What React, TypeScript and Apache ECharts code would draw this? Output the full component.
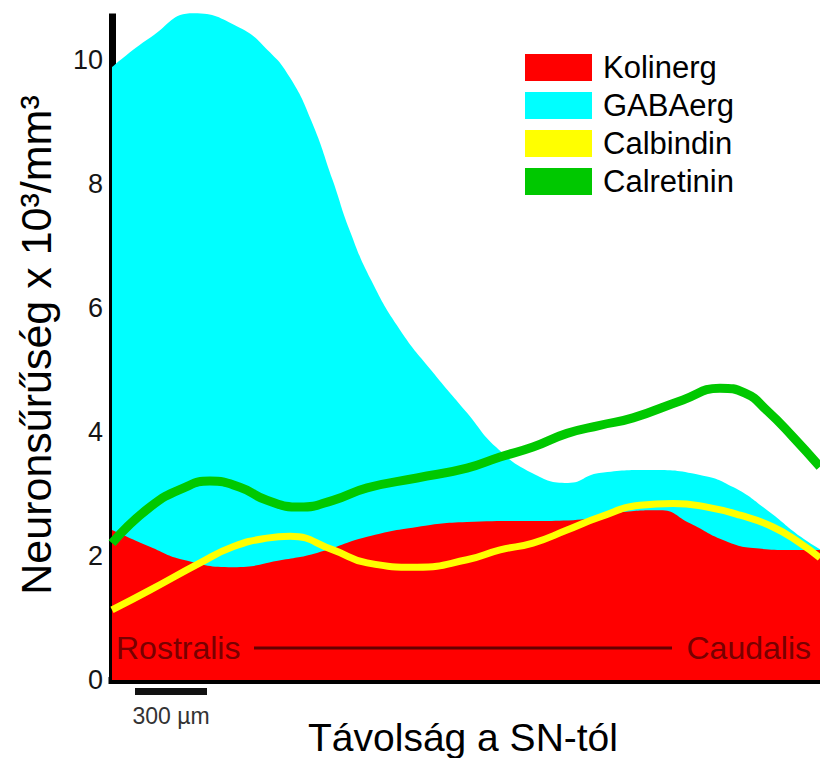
import React, { useEffect, useRef } from "react";
import * as echarts from "echarts";

// Distance from SN (µm), rostral -> caudal; densities in 10^3 neurons / mm^3
const kolinergX = [0, 158, 296, 504, 713, 854, 1063, 1271, 1479, 1921, 2129, 2283, 2408, 2546, 2671, 2825, 2950];
const kolinergY = [2.42, 2.15, 1.94, 1.82, 1.94, 2.05, 2.31, 2.47, 2.55, 2.58, 2.71, 2.74, 2.53, 2.26, 2.13, 2.1, 2.1];

const gabaergX = [0, 160, 340, 530, 650, 740, 830, 920, 990, 1080, 1200, 1330, 1480, 1600, 1750, 1900, 2030, 2240, 2450, 2590, 2730, 2870, 2950];
const gabaergY = [9.89, 10.37, 10.76, 10.53, 10.16, 9.73, 9.03, 8.06, 7.26, 6.45, 5.65, 5.0, 4.31, 3.76, 3.34, 3.18, 3.34, 3.39, 3.31, 3.11, 2.74, 2.31, 2.11];

const calbindinX = [0, 158, 367, 504, 646, 742, 921, 1063, 1271, 1479, 1617, 1754, 1896, 2033, 2200, 2338, 2479, 2617, 2754, 2867, 2950];
const calbindinY = [1.13, 1.45, 1.89, 2.15, 2.29, 2.32, 2.1, 1.89, 1.82, 1.94, 2.1, 2.21, 2.42, 2.63, 2.82, 2.85, 2.79, 2.66, 2.47, 2.21, 1.97];

const calretininX = [0, 158, 304, 408, 533, 646, 783, 921, 1063, 1271, 1479, 1617, 1754, 1896, 2033, 2171, 2379, 2533, 2638, 2729, 2838, 2950];
const calretininY = [2.21, 2.79, 3.11, 3.21, 3.11, 2.9, 2.79, 2.9, 3.1, 3.26, 3.42, 3.6, 3.76, 3.98, 4.11, 4.23, 4.52, 4.71, 4.63, 4.35, 3.92, 3.44];

const legendNames = ["Kolinerg", "GABAerg", "Calbindin", "Calretinin"];
const yTicks = { min: 0, max: 10.7, interval: 2 };
const xMax = 2950;
const scaleBarUm = 300;

const FONT = "'Liberation Sans', Arial, sans-serif";

const W = 820;
const H = 758;
const GRID = { left: 112, right: 0, top: 17, bottom: 78 };

function pairs(xs: number[], ys: number[]) {
  return xs.map((x, i) => [x, ys[i]]);
}

export default function App() {
  const ref = useRef<HTMLDivElement>(null);

  useEffect(() => {
    if (!ref.current) return;
    const chart = echarts.init(ref.current, null, { renderer: "svg" });
    const plotW = W - GRID.left - GRID.right;
    const barW = (plotW / xMax) * scaleBarUm;
    const barX = 135;

    chart.setOption({
      animation: false,
      backgroundColor: "#ffffff",
      grid: { ...GRID, containLabel: false },
      legend: {
        data: legendNames,
        orient: "vertical",
        left: 525,
        top: 52,
        padding: 0,
        itemWidth: 67,
        itemHeight: 27,
        itemGap: 7,
        icon: "rect",
        textStyle: { fontSize: 31, fontFamily: FONT, color: "#000", padding: [0, 0, 0, 6] },
        selectedMode: false,
      },
      xAxis: {
        type: "value",
        min: 0,
        max: xMax,
        axisLine: { show: true, onZero: false, lineStyle: { color: "#000", width: 7, cap: "square" } },
        axisTick: { show: false },
        axisLabel: { show: false },
        splitLine: { show: false },
      },
      yAxis: {
        type: "value",
        min: yTicks.min,
        max: yTicks.max,
        interval: yTicks.interval,
        axisLine: { show: true, lineStyle: { color: "#000", width: 7, cap: "square" } },
        axisTick: { show: false },
        splitLine: { show: false },
        axisLabel: {
          showMaxLabel: false,
          fontSize: 27,
          fontFamily: FONT,
          color: "#151515",
          margin: 9,
        },
      },
      series: [
        {
          name: "GABAerg",
          type: "line",
          data: pairs(gabaergX, gabaergY),
          smooth: 0.5,
          symbol: "none",
          clip: false,
          lineStyle: { width: 0, color: "#00FFFF" },
          itemStyle: { color: "#00FFFF" },
          areaStyle: { color: "#00FFFF", opacity: 1 },
          z: 1,
        },
        {
          name: "Kolinerg",
          type: "line",
          data: pairs(kolinergX, kolinergY),
          smooth: 0.5,
          symbol: "none",
          lineStyle: { width: 0, color: "#FF0000" },
          itemStyle: { color: "#FF0000" },
          areaStyle: { color: "#FF0000", opacity: 1 },
          z: 2,
        },
        {
          name: "Calbindin",
          type: "line",
          data: pairs(calbindinX, calbindinY),
          smooth: 0.5,
          symbol: "none",
          lineStyle: { width: 7, color: "#FFFF00" },
          itemStyle: { color: "#FFFF00" },
          z: 3,
        },
        {
          name: "Calretinin",
          type: "line",
          data: pairs(calretininX, calretininY),
          smooth: 0.5,
          symbol: "none",
          lineStyle: { width: 9, color: "#00C800" },
          itemStyle: { color: "#00C800" },
          z: 4,
        },
      ],
      graphic: [
        {
          type: "text",
          x: 36,
          y: 345,
          rotation: Math.PI / 2,
          style: {
            text: "Neuronsűrűség x 10³/mm³",
            fontSize: 43,
            fontFamily: FONT,
            fill: "#000",
            align: "center",
            verticalAlign: "middle",
          },
          z: 10,
        },
        {
          type: "text",
          x: 463,
          y: 737,
          style: {
            text: "Távolság a SN-tól",
            fontSize: 39,
            fontFamily: FONT,
            fill: "#000",
            align: "center",
            verticalAlign: "middle",
          },
          z: 10,
        },
        {
          type: "text",
          x: 116,
          y: 648,
          style: {
            text: "Rostralis",
            fontSize: 32,
            fontFamily: FONT,
            fill: "#780000",
            align: "left",
            verticalAlign: "middle",
          },
          z: 10,
        },
        {
          type: "line",
          shape: { x1: 254, y1: 648, x2: 672, y2: 648 },
          style: { stroke: "#650000", lineWidth: 3 },
          z: 10,
        },
        {
          type: "text",
          x: 811,
          y: 648,
          style: {
            text: "Caudalis",
            fontSize: 32,
            fontFamily: FONT,
            fill: "#780000",
            align: "right",
            verticalAlign: "middle",
          },
          z: 10,
        },
        {
          type: "rect",
          shape: { x: barX, y: 688, width: barW, height: 7 },
          style: { fill: "#111" },
          z: 10,
        },
        {
          type: "text",
          x: barX + barW / 2,
          y: 716,
          style: {
            text: "300 µm",
            fontSize: 23,
            fontFamily: FONT,
            fill: "#333",
            align: "center",
            verticalAlign: "middle",
          },
          z: 10,
        },
      ],
    });

    return () => chart.dispose();
  }, []);

  return (
    <div
      ref={ref}
      style={{ position: "absolute", left: 0, top: 0, width: W, height: H }}
    />
  );
}
